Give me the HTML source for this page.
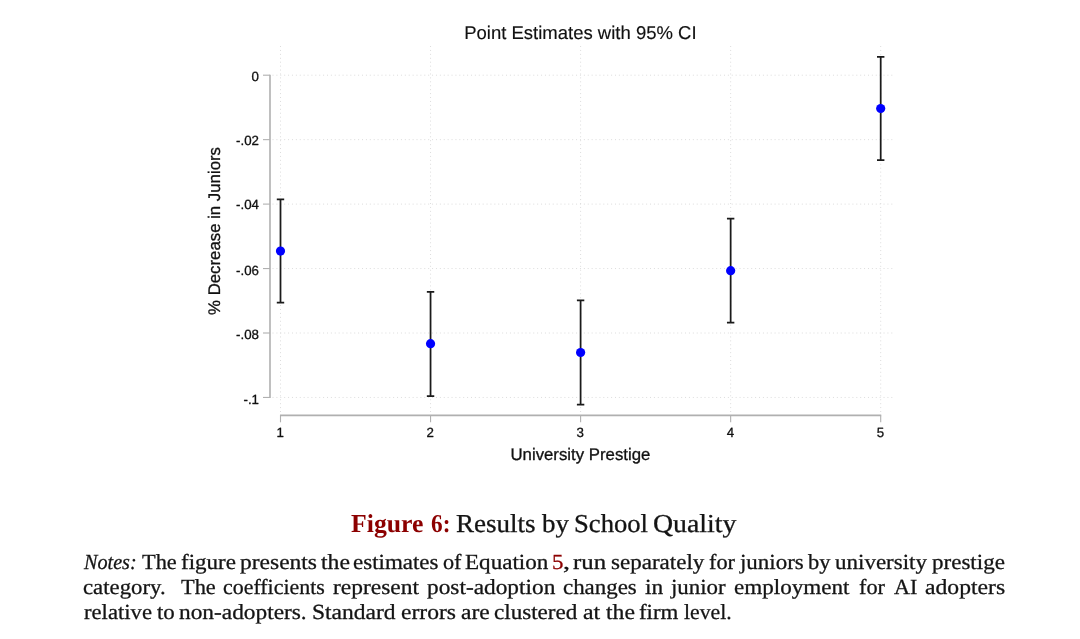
<!DOCTYPE html>
<html lang="en">
<head>
<meta charset="utf-8">
<title>Figure 6: Results by School Quality</title>
<style>
html, body { margin: 0; padding: 0; background: #ffffff; }
body { width: 1080px; height: 639px; position: relative; overflow: hidden;
  font-family: "Liberation Serif", serif; color: #141414; text-rendering: geometricPrecision; -webkit-text-stroke: 0.3px; }
figure, figcaption, p { margin: 0; padding: 0; }
.chart { position: absolute; left: 0; top: 0; }
.ln { position: absolute; white-space: nowrap; line-height: 1; font-size: 21.5px; height: 1em; width: 0; }
.cap { font-size: 25.8px; }
.w { position: absolute; top: 0; display: block; transform-origin: 0 0; white-space: nowrap; }
.it { font-style: italic; }
.bd { font-weight: bold; color: #8c0000; -webkit-text-stroke: 0; }
.rd { color: #8c0000; }
</style>
</head>
<body>
<figure>
<svg class="chart" role="img" aria-label="Point Estimates with 95% CI" width="1080" height="480" viewBox="0 0 1080 480">
<g class="grid" stroke="#dcdcdc" stroke-width="1" fill="none">
<g stroke-dasharray="1 2.892">
<line x1="272.5" y1="75.2" x2="892.4" y2="75.2"/>
<line x1="272.5" y1="139.65" x2="892.4" y2="139.65"/>
<line x1="272.5" y1="204.1" x2="892.4" y2="204.1"/>
<line x1="272.5" y1="268.55" x2="892.4" y2="268.55"/>
<line x1="272.5" y1="333.0" x2="892.4" y2="333.0"/>
<line x1="272.5" y1="397.45" x2="892.4" y2="397.45"/>
</g>
<g stroke-dasharray="1 2.925">
<line x1="280.5" y1="46" x2="280.5" y2="412"/>
<line x1="430.55" y1="46" x2="430.55" y2="412"/>
<line x1="580.6" y1="46" x2="580.6" y2="412"/>
<line x1="730.65" y1="46" x2="730.65" y2="412"/>
<line x1="880.7" y1="46" x2="880.7" y2="412"/>
</g>
</g>
<g class="axes" stroke="#b0b0b0" stroke-width="1.6" fill="none">
<line x1="270.0" y1="74.65" x2="270.0" y2="398.0"/>
<line x1="279.95" y1="415.4" x2="881.25" y2="415.4"/>
</g>
<g class="ticks" stroke="#b0b0b0" stroke-width="1.1" fill="none">
<line x1="263" y1="75.2" x2="270.0" y2="75.2"/>
<line x1="263" y1="139.65" x2="270.0" y2="139.65"/>
<line x1="263" y1="204.1" x2="270.0" y2="204.1"/>
<line x1="263" y1="268.55" x2="270.0" y2="268.55"/>
<line x1="263" y1="333.0" x2="270.0" y2="333.0"/>
<line x1="263" y1="397.45" x2="270.0" y2="397.45"/>
<line x1="280.5" y1="415.4" x2="280.5" y2="422.3"/>
<line x1="430.55" y1="415.4" x2="430.55" y2="422.3"/>
<line x1="580.6" y1="415.4" x2="580.6" y2="422.3"/>
<line x1="730.65" y1="415.4" x2="730.65" y2="422.3"/>
<line x1="880.7" y1="415.4" x2="880.7" y2="422.3"/>
</g>
<g class="ci" stroke="#1a1a1a" stroke-width="1.75" fill="none">
<path d="M280.5 199.3 V302.7 M276.80 199.3 H284.20 M276.80 302.7 H284.20"/>
<path d="M430.55 291.9 V396.0 M426.85 291.9 H434.25 M426.85 396.0 H434.25"/>
<path d="M580.6 300.4 V404.5 M576.90 300.4 H584.30 M576.90 404.5 H584.30"/>
<path d="M730.65 218.7 V322.7 M726.95 218.7 H734.35 M726.95 322.7 H734.35"/>
<path d="M880.7 56.8 V160.1 M877.00 56.8 H884.40 M877.00 160.1 H884.40"/>
</g>
<g class="pts" fill="#0000ff">
<circle cx="280.5" cy="251.1" r="4.6"/>
<circle cx="430.55" cy="343.7" r="4.6"/>
<circle cx="580.6" cy="352.5" r="4.6"/>
<circle cx="730.65" cy="270.7" r="4.6"/>
<circle cx="880.7" cy="108.5" r="4.6"/>
</g>
<g class="labels" font-family="'Liberation Sans', sans-serif" fill="#111" stroke="#111" stroke-width="0.3" stroke-linejoin="round">
<g font-size="13.3" text-anchor="end">
<text x="259" y="81">0</text>
<text x="259" y="145">-.02</text>
<text x="259" y="209">-.04</text>
<text x="259" y="275">-.06</text>
<text x="259" y="339">-.08</text>
<text x="259" y="404">-.1</text>
</g>
<g font-size="13.3" text-anchor="middle">
<text x="280.20" y="437">1</text>
<text x="430.25" y="437">2</text>
<text x="580.30" y="437">3</text>
<text x="730.35" y="437">4</text>
<text x="880.40" y="437">5</text>
</g>
<text x="580.4" y="39.2" font-size="18.5" text-anchor="middle" stroke-width="0.15">Point Estimates with 95% CI</text>
<text x="580.4" y="459.6" font-size="16.8" text-anchor="middle">University Prestige</text>
<text transform="translate(219.6 231) rotate(-90)" font-size="16.8" text-anchor="middle">% Decrease in Juniors</text>
</g>
</svg>
<figcaption class="ln cap" style="left:351.20px;top:511px"><span class="w bd" style="left:0.25px;transform:scaleX(0.9982)">Figure</span> <span class="w bd" style="left:79.35px;transform:scaleX(0.9024)">6:</span> <span class="w" style="left:105.30px;transform:scaleX(1.0481)">Results</span> <span class="w" style="left:190.59px;transform:scaleX(1.0445)">by</span> <span class="w" style="left:222.74px;transform:scaleX(1.0323)">School</span> <span class="w" style="left:302.30px;transform:scaleX(1.0783)">Quality</span></figcaption>
<div class="notes">
<p class="ln n1" style="left:83.80px;top:552px"><span class="w it" style="left:0.19px;transform:scaleX(0.9377)">Notes:</span> <span class="w" style="left:58.60px;transform:scaleX(1.0395)">The</span> <span class="w" style="left:97.21px;transform:scaleX(1.0690)">figure</span> <span class="w" style="left:155.83px;transform:scaleX(1.0932)">presents</span> <span class="w" style="left:236.94px;transform:scaleX(1.1006)">the</span> <span class="w" style="left:269.69px;transform:scaleX(1.0682)">estimates</span> <span class="w" style="left:359.07px;transform:scaleX(1.0335)">of</span> <span class="w" style="left:381.70px;transform:scaleX(1.0730)">Equation</span> <span class="w rd" style="left:468.32px;transform:scaleX(1.0654)">5</span><span class="w" style="left:479.01px;transform:scaleX(1.3054)">,</span> <span class="w" style="left:489.52px;transform:scaleX(1.1536)">run</span> <span class="w" style="left:526.72px;transform:scaleX(1.0711)">separately</span> <span class="w" style="left:624.97px;transform:scaleX(1.0363)">for</span> <span class="w" style="left:655.73px;transform:scaleX(1.0672)">juniors</span> <span class="w" style="left:724.01px;transform:scaleX(1.0440)">by</span> <span class="w" style="left:751.41px;transform:scaleX(1.0697)">university</span> <span class="w" style="left:848.65px;transform:scaleX(1.0712)">prestige</span></p>
<p class="ln n2" style="left:83.80px;top:577px"><span class="w" style="left:-0.33px;transform:scaleX(1.0590)">category.</span> <span class="w" style="left:97.28px;transform:scaleX(1.0395)">The</span> <span class="w" style="left:139.64px;transform:scaleX(1.0191)">coefficients</span> <span class="w" style="left:248.97px;transform:scaleX(1.0910)">represent</span> <span class="w" style="left:342.74px;transform:scaleX(1.0851)">post-adoption</span> <span class="w" style="left:478.89px;transform:scaleX(1.0651)">changes</span> <span class="w" style="left:561.04px;transform:scaleX(1.0849)">in</span> <span class="w" style="left:587.35px;transform:scaleX(1.0635)">junior</span> <span class="w" style="left:650.53px;transform:scaleX(1.0750)">employment</span> <span class="w" style="left:775.12px;transform:scaleX(1.0363)">for</span> <span class="w" style="left:810.06px;transform:scaleX(1.0258)">AI</span> <span class="w" style="left:841.45px;transform:scaleX(1.0999)">adopters</span></p>
<p class="ln n3" style="left:83.80px;top:602px"><span class="w" style="left:-0.02px;transform:scaleX(1.0542)">relative</span> <span class="w" style="left:73.20px;transform:scaleX(1.0631)">to</span> <span class="w" style="left:95.53px;transform:scaleX(1.0857)">non-adopters.</span> <span class="w" style="left:228.42px;transform:scaleX(1.0942)">Standard</span> <span class="w" style="left:317.21px;transform:scaleX(1.0964)">errors</span> <span class="w" style="left:377.02px;transform:scaleX(1.0945)">are</span> <span class="w" style="left:410.40px;transform:scaleX(1.0740)">clustered</span> <span class="w" style="left:499.13px;transform:scaleX(1.1097)">at</span> <span class="w" style="left:521.76px;transform:scaleX(1.1006)">the</span> <span class="w" style="left:555.44px;transform:scaleX(1.0641)">firm</span> <span class="w" style="left:599.95px;transform:scaleX(1.0106)">level.</span></p>
</div>
</figure>
</body>
</html>
